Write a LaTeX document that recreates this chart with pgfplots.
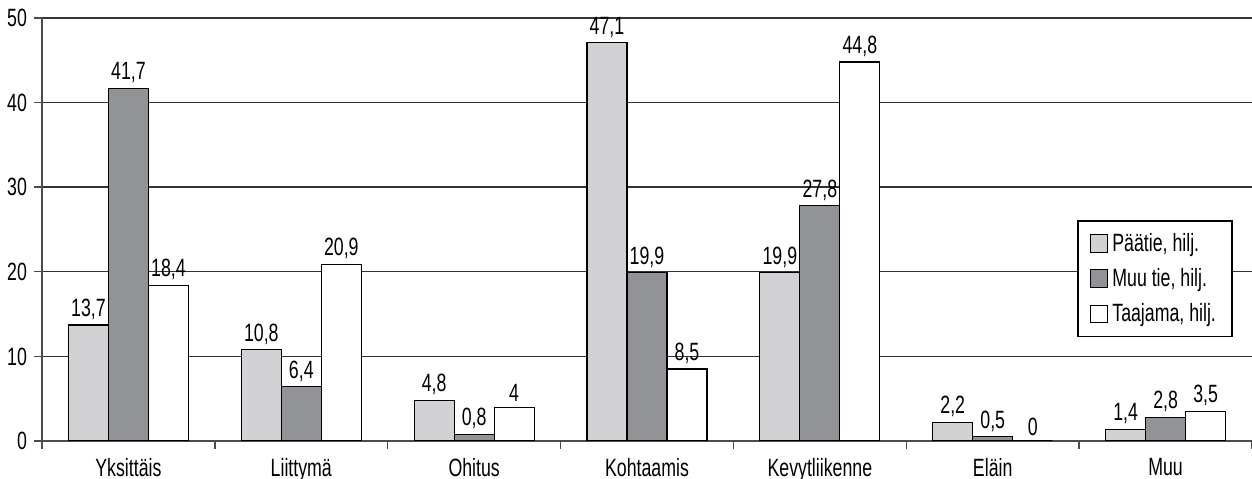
\documentclass[border=0pt]{standalone}
\usepackage{pgfplots}
\pgfplotsset{compat=1.18}
\usepackage{fontspec}
\setmainfont{Liberation Sans}[FakeStretch=0.71]

\definecolor{paatie}{RGB}{210,210,212}
\definecolor{muutie}{RGB}{146,147,151}

\begin{document}
\begin{tikzpicture}
\begin{axis}[
  scale only axis, width=605pt, height=211.5pt,
  ybar=0pt, bar width=20pt,
  xmin=-0.5, xmax=6.5, ymin=0, ymax=50,
  axis x line=bottom, axis y line=left,
  axis line style={-, black!70, line width=0.7pt},
  xtick={-0.5,0.5,...,6.5},
  xticklabels={},
  extra x ticks={0,...,6},
  extra x tick labels={Yksittäis,Liittymä,Ohitus,Kohtaamis,Kevytliikenne,Eläin,Muu},
  extra x tick style={major tick length=0pt, grid=none},
  ytick={0,10,...,50},
  tick align=outside, major tick length=4pt,
  tick style={black!70, line width=0.7pt},
  ymajorgrids, grid style={black!80, line width=0.7pt},
  tick label style={font=\fontsize{12.5}{13}\selectfont},
  x tick label style={yshift=-5pt},
  /pgf/number format/assume math mode=true,
  /pgf/number format/use comma,
  nodes near coords,
  every node near coord/.append style={font=\fontsize{12.5}{13}\selectfont, black, yshift=-1pt},
  legend style={at={(0.984,0.522)}, anchor=north east, draw=black, line width=0.7pt,
    font=\fontsize{12.5}{13}\selectfont, row sep=3pt, inner xsep=6pt, inner ysep=4pt},
  legend cell align=left,
  legend image code/.code={\draw[#1, draw=black, line width=0.5pt] (0pt,-4.3pt) rectangle (8.6pt,4.3pt);},
]
\addplot[fill=paatie, draw=black, line width=0.6pt] coordinates {(0,13.7) (1,10.8) (2,4.8) (3,47.1) (4,19.9) (5,2.2) (6,1.4)};
\addplot[fill=muutie, draw=black, line width=0.6pt] coordinates {(0,41.7) (1,6.4) (2,0.8) (3,19.9) (4,27.8) (5,0.5) (6,2.8)};
\addplot[fill=white, draw=black, line width=0.6pt] coordinates {(0,18.4) (1,20.9) (2,4) (3,8.5) (4,44.8) (5,0) (6,3.5)};
\legend{{Päätie, hilj.},{Muu tie, hilj.},{Taajama, hilj.}}
\end{axis}
\pgfresetboundingbox
\path ([xshift=-21pt,yshift=-19pt]current axis.south west) rectangle ([yshift=9pt]current axis.north east);
\end{tikzpicture}
\end{document}
